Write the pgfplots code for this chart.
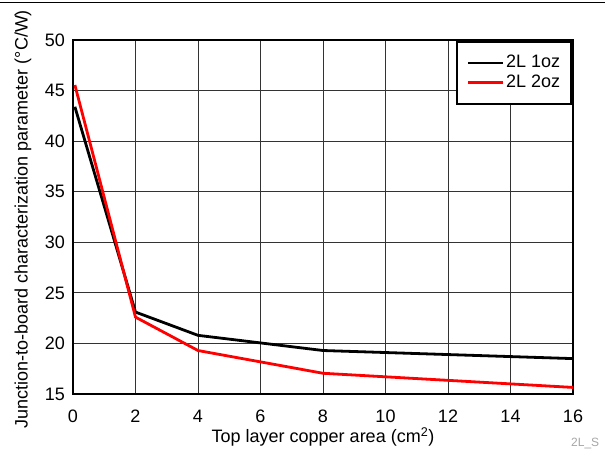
\documentclass[border=0pt]{standalone}
\usepackage{fontspec}
\setmainfont{Liberation Sans}
\usepackage{pgfplots}
\pgfplotsset{compat=1.18}
\begin{document}
\fontsize{18}{21}\selectfont
\begin{tikzpicture}[x=1pt,y=1pt]
\useasboundingbox (0,0) rectangle (605,448);
\clip (0,0) rectangle (605,448);
\draw[line width=1.5pt] (0,445.5) -- (605,445.5);
\node[anchor=north west, text=black!35, font=\fontsize{12}{14}\selectfont, inner sep=0pt] at (571,10.5) {2L\_S};
\begin{axis}[
  at={(73pt,54pt)}, anchor=south west, scale only axis,
  width=500pt, height=354pt,
  xmin=0, xmax=16, ymin=15, ymax=50,
  xtick={0,2,...,16}, ytick={15,20,...,50},
  grid=major, major grid style={line width=0.9pt, black!80},
  axis line style={line width=2.8pt},
  tick style={draw=none},
  /pgf/number format/assume math mode=true,
  ticklabel style={font=\fontsize{18}{21}\selectfont},
  yticklabel style={xshift=-2pt},
  xticklabel style={yshift=-10pt},
  xlabel={Top layer copper area (cm\textsuperscript{2})},
  xlabel style={at={(axis description cs:0.5,-0.138)}, anchor=base, font=\fontsize{18}{21}\selectfont},
  ylabel={Junction-to-board characterization parameter (°C/W)},
  ylabel style={at={(axis description cs:-0.1,0.494)}, anchor=center, rotate=0, font=\fontsize{18}{21}\selectfont},
  legend style={at={(axis cs:16,50)}, anchor=north east, draw=black, line width=2.6pt,
    font=\fontsize{18}{21}\selectfont, inner xsep=9.5pt, inner ysep=12pt, row sep=0pt,
    cells={anchor=west}},
  legend image code/.code={\draw[#1, line width=2.6pt] (0pt,0pt) -- (35pt,0pt);},
]
\addplot[black, line width=2.8pt] coordinates {(0.06,43.4) (2,23.1) (4,20.8) (8,19.3) (16,18.5)};
\addlegendentry{2L 1oz}
\addplot[red, line width=2.8pt] coordinates {(0.06,45.55) (2,22.6) (4,19.3) (8,17.05) (16,15.65)};
\addlegendentry{2L 2oz}
\end{axis}
\end{tikzpicture}
\end{document}
